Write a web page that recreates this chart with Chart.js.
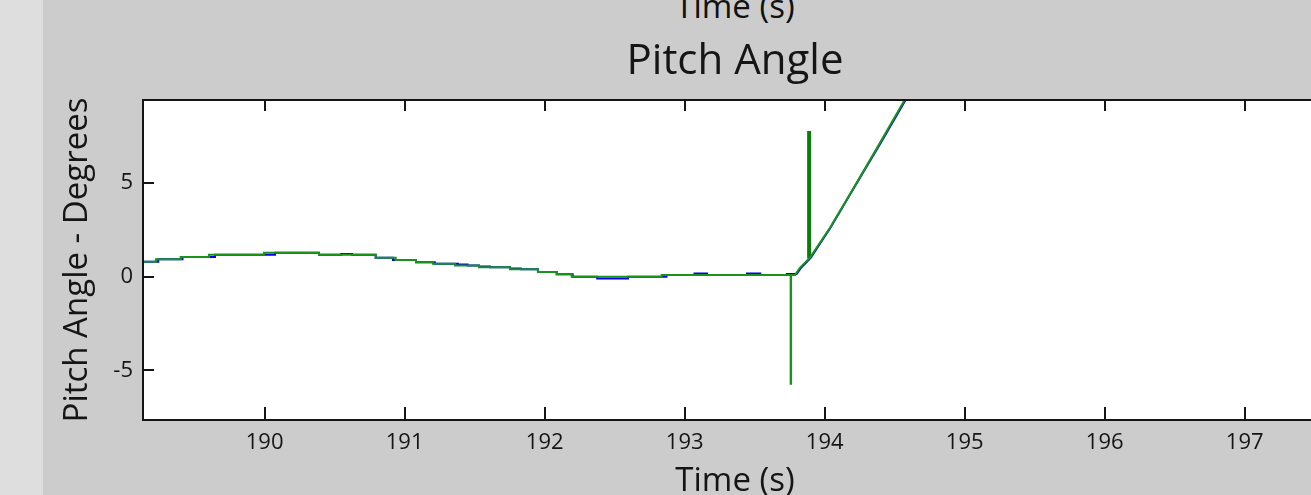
<!DOCTYPE html>
<html>
<head>
<meta charset="utf-8">
<title>Pitch Angle</title>
<script src="https://cdn.jsdelivr.net/npm/chart.js@4.4.1/dist/chart.umd.min.js"></script>
<style>
  html, body { margin: 0; padding: 0; width: 1311px; height: 495px; overflow: hidden; background: #cccccc; }
  #strip { position: absolute; left: 0; top: 0; width: 43px; height: 495px; background: #dedede; }
  #prev-label { position: absolute; left: 143px; width: 1184px; top: -17px; line-height: 33px;
    font: 33px "Open Sans", sans-serif; color: #111; text-align: center; }
  #wrap { position: absolute; left: 0; top: 0; width: 1327px; height: 495px; }
</style>
</head>
<body>
<div id="strip"></div>
<div id="prev-label">Time (s)</div>
<div id="wrap"><canvas id="chart" width="1327" height="495"></canvas></div>
<script>
"use strict";

/* ── Data ────────────────────────────────────────────────── */
const xMin = 189.131, xMax = 197.588;
const yMin = -7.65,   yMax = 9.44;
const xTickStep = 1, yTickStep = 5;

// green trace: step changes written as repeated times
const greenT = [189.10, 189.224, 189.224, 189.400, 189.400, 189.602, 189.602, 189.995, 189.995,
  190.388, 190.388, 190.793, 190.793, 190.936, 190.936, 191.081, 191.081, 191.202, 191.202,
  191.359, 191.359, 191.531, 191.531, 191.752, 191.752, 191.952, 191.952, 192.086, 192.086,
  192.193, 192.193, 192.836, 192.836, 193.757, 193.757, 193.760, 193.760, 193.789,
  193.823, 193.895, 194.038, 194.180, 194.395, 194.574, 194.660];
const greenV = [0.80, 0.80, 0.93, 0.93, 1.05, 1.05, 1.18, 1.18, 1.28,
  1.28, 1.18, 1.18, 1.02, 1.02, 0.89, 0.89, 0.78, 0.78, 0.70,
  0.70, 0.60, 0.60, 0.51, 0.51, 0.40, 0.40, 0.26, 0.26, 0.13,
  0.13, 0.00, 0.00, 0.10, 0.10, -5.71, -5.71, 0.10, 0.10,
  0.48, 1.02, 2.62, 4.40, 7.15, 9.48, 10.40];

// short spike just after the break
const spikeT = [193.889, 193.889];
const spikeV = [0.98, 7.79];

// blue trace, mostly hidden under the green one
const blueT = [189.10, 189.240, 189.240, 189.413, 189.413, 189.645, 189.645, 190.074, 190.074,
  190.388, 190.388, 190.547, 190.547, 190.624, 190.624, 190.793, 190.793, 190.916, 190.916,
  191.081, 191.081, 191.215, 191.215, 191.380, 191.380, 191.450, 191.450, 191.531, 191.531,
  191.610, 191.610, 191.752, 191.752, 191.830, 191.830, 191.952, 191.952, 192.086, 192.086,
  192.200, 192.200, 192.375, 192.375, 192.595, 192.595, 192.870, 192.870, 193.070, 193.070,
  193.160, 193.160, 193.445, 193.445, 193.540, 193.540, 193.730, 193.730, 193.800,
  193.830, 193.900, 194.040, 194.180, 194.400, 194.580, 194.660];
const blueV = [0.80, 0.80, 0.93, 0.93, 1.05, 1.05, 1.18, 1.18, 1.28,
  1.28, 1.18, 1.18, 1.22, 1.22, 1.18, 1.18, 1.02, 1.02, 0.89,
  0.89, 0.78, 0.78, 0.70, 0.70, 0.65, 0.65, 0.60, 0.60, 0.55,
  0.55, 0.51, 0.51, 0.44, 0.44, 0.40, 0.40, 0.26, 0.26, 0.13,
  0.13, 0.00, 0.00, -0.09, -0.09, 0.00, 0.00, 0.10, 0.10, 0.17,
  0.17, 0.10, 0.10, 0.17, 0.17, 0.10, 0.10, 0.15, 0.15,
  0.47, 1.01, 2.60, 4.38, 7.14, 9.47, 10.38];

const pairs = (t, v) => t.map((x, i) => ({ x, y: v[i] }));

const FONT = "'Open Sans', 'Noto Sans', sans-serif";
const INK  = "#151515";
const GREEN = "#1a931a";

/* ── Plot frame: white area, border on three sides, inward ticks ── */
const frame = {
  id: "frame",
  beforeDatasetsDraw(chart) {
    const { ctx, chartArea: a } = chart;
    ctx.save();
    ctx.fillStyle = "#ffffff";
    ctx.fillRect(a.left, a.top, a.right - a.left, a.bottom - a.top);
    ctx.restore();
  },
  afterDatasetsDraw(chart) {
    const { ctx, chartArea: a, scales } = chart;
    ctx.save();
    ctx.strokeStyle = INK;
    ctx.lineWidth = 2;
    ctx.beginPath();
    ctx.moveTo(a.right, a.top);
    ctx.lineTo(a.left, a.top);
    ctx.lineTo(a.left, a.bottom);
    ctx.lineTo(a.right, a.bottom);
    scales.x.ticks.forEach((t) => {
      const px = Math.round(scales.x.getPixelForValue(t.value));
      ctx.moveTo(px, a.bottom);
      ctx.lineTo(px, a.bottom - 13);
      ctx.moveTo(px, a.top);
      ctx.lineTo(px, a.top + 11);
    });
    scales.y.ticks.forEach((t) => {
      const py = Math.round(scales.y.getPixelForValue(t.value));
      ctx.moveTo(a.left, py);
      ctx.lineTo(a.left + 11, py);
    });
    ctx.stroke();
    ctx.restore();
  },
};

new Chart(document.getElementById("chart"), {
  type: "scatter",
  data: {
    datasets: [
      { label: "green", data: pairs(greenT, greenV), borderColor: GREEN, borderWidth: 2, order: 0 },
      { label: "spike", data: pairs(spikeT, spikeV), borderColor: "#0a7c0a", borderWidth: 4, order: 0 },
      { label: "blue",  data: pairs(blueT, blueV),   borderColor: "#0000ff", borderWidth: 2, order: 1 },
    ].map((d) => Object.assign(d, { showLine: true, pointRadius: 0, pointHoverRadius: 0, fill: false, tension: 0 })),
  },
  options: {
    responsive: false,
    animation: false,
    devicePixelRatio: 1,
    events: [],
    layout: { padding: 0 },
    plugins: {
      legend: { display: false },
      tooltip: { enabled: false },
      title: {
        display: true,
        text: "Pitch Angle",
        fullSize: false,
        color: INK,
        font: { family: FONT, size: 42, weight: "normal", lineHeight: 1.2 },
        padding: { top: 36.5, bottom: 13.1 },
      },
    },
    scales: {
      x: {
        type: "linear",
        min: xMin,
        max: xMax,
        grid: { display: false, drawTicks: false },
        border: { display: false },
        ticks: { stepSize: xTickStep, includeBounds: false, padding: 10, color: INK,
                 font: { family: FONT, size: 22 }, maxRotation: 0 },
        title: { display: true, text: "Time (s)", color: INK,
                 font: { family: FONT, size: 33, lineHeight: 0.8 }, padding: { top: 0, bottom: 0.5 } },
        afterFit(scale) { scale.height = 75; },
      },
      y: {
        type: "linear",
        min: yMin,
        max: yMax,
        grid: { display: false, drawTicks: false },
        border: { display: false },
        ticks: { stepSize: yTickStep, includeBounds: false, padding: 10, color: INK,
                 font: { family: FONT, size: 22 } },
        title: { display: true, text: "Pitch Angle - Degrees", color: INK,
                 font: { family: FONT, size: 33, lineHeight: 1 }, padding: { top: 61.5, bottom: 0 } },
        afterFit(scale) { scale.width = 143; },
      },
    },
  },
  plugins: [frame],
});
</script>
</body>
</html>
